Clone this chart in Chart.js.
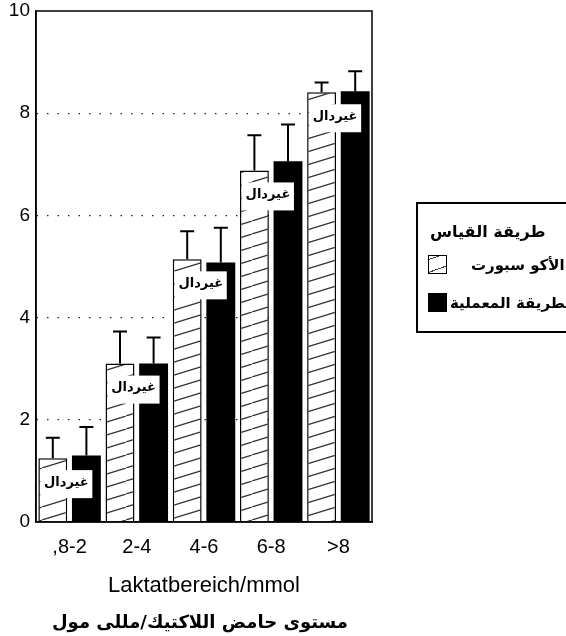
<!DOCTYPE html>
<html>
<head>
<meta charset="utf-8">
<script src="https://cdn.jsdelivr.net/npm/chart.js@4.4.1/dist/chart.umd.min.js"></script>
<style>
  html, body { margin: 0; padding: 0; background: #fff; overflow: hidden; }
  #wrap { position: relative; width: 566px; height: 636px; }
  #chart { direction: ltr; }
  #arTitle {
    position: absolute; left: 0; width: 400px; top: 611px;
    text-align: center; font: bold 18px "DejaVu Sans", sans-serif; direction: rtl;
  }
  #legend {
    position: absolute; left: 416px; top: 202px; width: 180px; height: 131px;
    border: 2px solid #000; box-sizing: border-box;
    font: bold 15px "DejaVu Sans", sans-serif;
  }
  #legend .ttl { position: absolute; left: 12px; top: 18px; font-size: 16px; white-space: nowrap; }
  #legend .row { position: absolute; left: 10px; display: flex; align-items: center; white-space: nowrap; }
  #legend .sw { width: 19px; height: 19px; box-sizing: border-box; }
  #legend .hatch {
    border: 1.5px solid #000;
    background: repeating-linear-gradient(-20deg, #fff 0 6px, #444 6px 7px, #fff 7px 12px);
  }
  #legend .solid { background: #000; }
</style>
</head>
<body>
<div id="wrap">
  <canvas id="chart" width="566" height="636" dir="ltr"></canvas>
  <div id="arTitle">مستوى حامض اللاكتيك/مللى مول</div>
  <div id="legend">
    <div class="ttl">طريقة القياس</div>
    <div class="row" style="top:51px"><div class="sw hatch"></div><span style="margin-left:24px">الأكو سبورت</span></div>
    <div class="row" style="top:89px"><div class="sw solid"></div><span style="margin-left:3px">الطريقة المعملية</span></div>
  </div>
</div>
<script>
const categories = ["\u200E,8-2", "2-4", "4-6", "6-8", "\u200E>8"];
const seriesNames = ["الأكو سبورت", "الطريقة المعملية"];
const accuValues = [1.25, 3.1, 5.14, 6.88, 8.41];
const labValues = [1.3, 3.1, 5.08, 7.06, 8.43];
const accuErrTop = [1.65, 3.73, 5.69, 7.57, 8.6];
const labErrTop = [1.86, 3.61, 5.76, 7.78, 8.82];
const yTicks = [0, 2, 4, 6, 8, 10];
const barLabel = "غيردال";

// hatched fill for the first series
function makeHatch() {
  let tile = document.createElement("canvas");
  tile.width = 42;
  tile.height = 13;
  let c = tile.getContext("2d");
  c.fillStyle = "#fff";
  c.fillRect(0, 0, 42, 13);
  c.strokeStyle = "#333";
  c.lineWidth = 1.2;
  c.beginPath();
  c.moveTo(0, 13);
  c.lineTo(42, 0);
  c.stroke();
  return c.createPattern(tile, "repeat");
}

const errorTops = [accuErrTop, labErrTop];

const framePlugin = {
  id: "frame",
  beforeDraw(chart) {
    chart.ctx.direction = "ltr";
  },
  afterDatasetsDraw(chart) {
    let ctx = chart.ctx;
    let a = chart.chartArea;
    let y = chart.scales.y;

    // error bars
    ctx.save();
    ctx.strokeStyle = "#000";
    ctx.lineWidth = 2;
    chart.data.datasets.forEach((ds, i) => {
      let meta = chart.getDatasetMeta(i);
      meta.data.forEach((bar, j) => {
        let top = y.getPixelForValue(errorTops[i][j]);
        ctx.beginPath();
        ctx.moveTo(bar.x, bar.y);
        ctx.lineTo(bar.x, top);
        ctx.moveTo(bar.x - 7, top);
        ctx.lineTo(bar.x + 7, top);
        ctx.stroke();
      });
    });

    // white label boxes on the hatched bars
    let meta0 = chart.getDatasetMeta(0);
    ctx.font = "bold 13px 'DejaVu Sans'";
    ctx.textAlign = "center";
    ctx.textBaseline = "middle";
    meta0.data.forEach((bar) => {
      let left = bar.x - bar.width / 2 + 2;
      let top = bar.y + 12;
      ctx.fillStyle = "#fff";
      ctx.fillRect(left, top, 52, 28);
      ctx.fillStyle = "#000";
      ctx.fillText(barLabel, left + 26, top + 12);
    });

    // plot frame
    ctx.lineWidth = 1.5;
    ctx.strokeRect(a.left, a.top, a.right - a.left, a.bottom - a.top);
    ctx.restore();
  },
};

new Chart(document.getElementById("chart"), {
  type: "bar",
  data: {
    labels: categories,
    datasets: [
      {
        label: seriesNames[0],
        data: accuValues,
        backgroundColor: makeHatch(),
        borderColor: "#000",
        borderWidth: 1.5,
      },
      {
        label: seriesNames[1],
        data: labValues,
        backgroundColor: "#000",
        borderColor: "#000",
        borderWidth: 0,
      },
    ],
  },
  options: {
    responsive: false,
    animation: false,
    barPercentage: 0.86,
    categoryPercentage: 1.0,
    layout: { padding: { left: 0, right: 194, top: 11, bottom: 0 } },
    plugins: {
      legend: { display: false },
      tooltip: { enabled: false },
    },
    scales: {
      x: {
        afterFit: (scale) => { scale.height = 114; },
        grid: { display: false },
        border: { color: "#000", width: 1.5 },
        ticks: {
          color: "#000",
          padding: 5,
          font: { family: "'Liberation Sans', Arial", size: 20 },
        },
        title: {
          display: true,
          text: "Laktatbereich/mmol",
          color: "#000",
          padding: { top: 10, bottom: 37 },
          font: { family: "'Liberation Sans', Arial", size: 22 },
        },
      },
      y: {
        min: 0,
        max: 10,
        afterFit: (scale) => {
          scale.width = 36;
          scale.paddingTop = 0;
          scale.paddingBottom = 0;
        },
        afterBuildTicks: (scale) => {
          scale.ticks = yTicks.map((v) => ({ value: v }));
        },
        border: { color: "#000", width: 1.5, dash: [1.5, 9] },
        grid: {
          drawTicks: false,
          color: (c) =>
            c.tick && (c.tick.value === 0 || c.tick.value === 10) ? "transparent" : "#222",
          lineWidth: 1.2,
        },
        ticks: {
          color: "#000",
          padding: 6,
          font: { family: "'Liberation Sans', Arial", size: 19 },
        },
      },
    },
  },
  plugins: [framePlugin],
});
</script>
</body>
</html>
